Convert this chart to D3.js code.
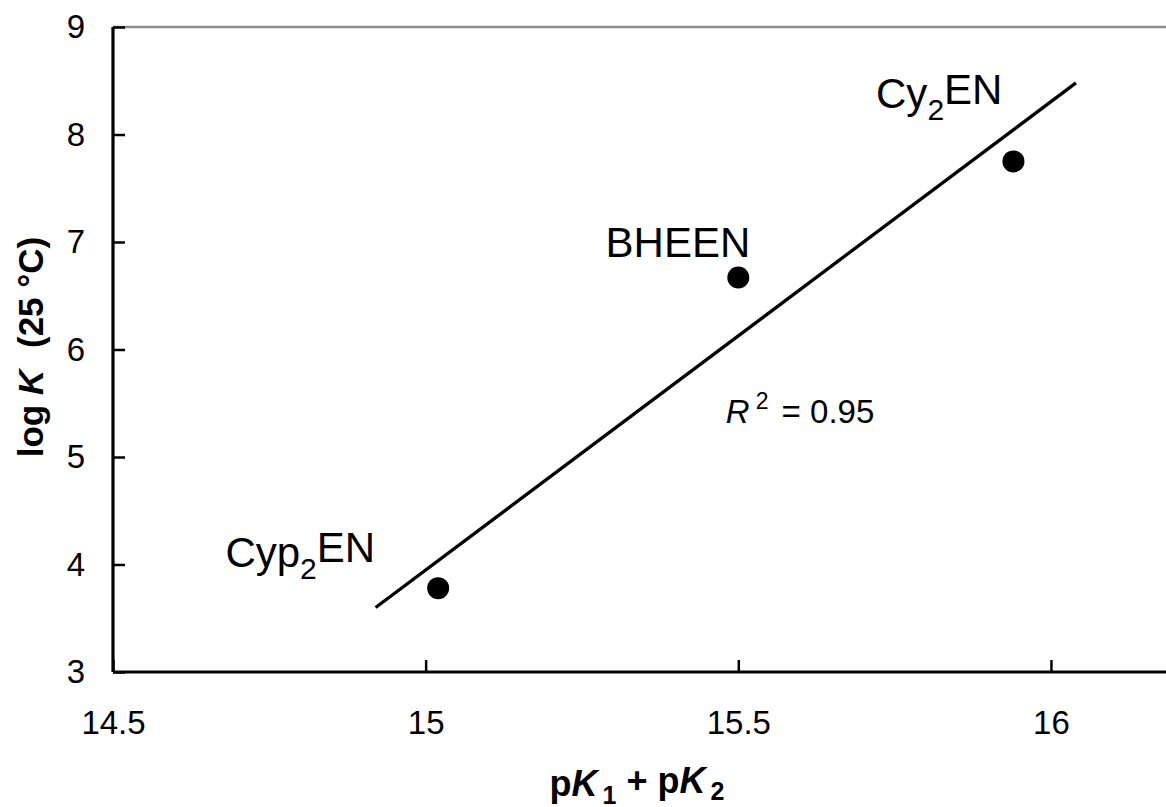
<!DOCTYPE html>
<html>
<head>
<meta charset="utf-8">
<script src="https://cdnjs.cloudflare.com/ajax/libs/d3/7.8.5/d3.min.js"></script>
<style>
  body { margin: 0; background: #fff; }
  text { font-family: "Liberation Sans", Arial, sans-serif; fill: #000; }
</style>
</head>
<body>
<div id="chart"></div>
<script>
// ligands and their values
var names = ["Cyp2EN", "BHEEN", "Cy2EN"];
var pkSum = [15.02, 15.50, 15.94];
var logK = [3.78, 6.67, 7.75];

// fitted trend line ends
var trendX = [14.92, 16.04];
var trendY = [3.60, 8.48];

var xTicks = [14.5, 15, 15.5, 16];
var yTicks = [3, 4, 5, 6, 7, 8, 9];

var W = 1166, H = 807;
var margin = {top: 27, left: 113};
var plotH = 645;

var svg = d3.select("#chart")
    .append("svg")
    .attr("width", W)
    .attr("height", H);

var x = d3.scaleLinear()
    .domain([14.5, 16.5])
    .range([margin.left, margin.left + 1250.6]);

var y = d3.scaleLinear()
    .domain([3, 9])
    .range([margin.top + plotH, margin.top]);

// gray top border
svg.append("line")
    .attr("x1", x(14.5)).attr("x2", W)
    .attr("y1", y(9)).attr("y2", y(9))
    .attr("stroke", "#8c8c8c")
    .attr("stroke-width", 2.5);

var yAxis = d3.axisLeft(y)
    .tickValues(yTicks)
    .tickFormat(d3.format("d"))
    .tickSizeInner(-12)
    .tickSizeOuter(0)
    .tickPadding(28);

var xAxis = d3.axisBottom(x)
    .tickValues(xTicks)
    .tickFormat(function (d) { return d; })
    .tickSizeInner(-12)
    .tickSizeOuter(0)
    .tickPadding(39);

var yG = svg.append("g")
    .attr("transform", "translate(" + margin.left + ",0)")
    .call(yAxis);

var xG = svg.append("g")
    .attr("transform", "translate(0," + y(3) + ")")
    .call(xAxis);

[yG, xG].forEach(function (g) {
    g.select(".domain").attr("stroke", "#000").attr("stroke-width", 3.2);
    g.selectAll(".tick line").attr("stroke", "#000").attr("stroke-width", 2.5);
    g.selectAll(".tick text")
        .attr("font-family", "Liberation Sans, Arial, sans-serif")
        .attr("font-size", "33px")
        .attr("fill", "#000");
});
yG.select(".domain").attr("d", "M0," + y(3) + "V" + y(9));
xG.select(".domain").attr("d", "M" + x(14.5) + ",0H" + W);

// trend line
svg.append("line")
    .attr("x1", x(trendX[0])).attr("y1", y(trendY[0]))
    .attr("x2", x(trendX[1])).attr("y2", y(trendY[1]))
    .attr("stroke", "#000")
    .attr("stroke-width", 3.3);

// points
svg.selectAll("circle.pt")
    .data(names)
    .enter()
    .append("circle")
    .attr("class", "pt")
    .attr("cx", function (d, i) { return x(pkSum[i]); })
    .attr("cy", function (d, i) { return y(logK[i]); })
    .attr("r", 11)
    .attr("fill", "#000");

// point labels, end-anchored beside each point
var labelOff = {
    "Cyp2EN": [-63, -21],
    "BHEEN": [12, -20],
    "Cy2EN": [-11, -53]
};

names.forEach(function (n, i) {
    var t = svg.append("text")
        .attr("x", x(pkSum[i]) + labelOff[n][0])
        .attr("y", y(logK[i]) + labelOff[n][1])
        .attr("text-anchor", "end")
        .attr("font-size", "42px");
    var m = n.match(/^(.*?)2(EN)$/);
    if (m && n !== "BHEEN") {
        t.append("tspan").text(m[1]);
        t.append("tspan").attr("font-size", "30px").attr("dy", "0.4em").text("2");
        t.append("tspan").attr("dy", "-0.4em").text(m[2]);
    } else {
        t.text(n);
    }
});

// R squared
var r2 = svg.append("text")
    .attr("x", x(15.48))
    .attr("y", y(5.32))
    .attr("font-size", "33px");
r2.append("tspan").attr("font-style", "italic").text("R");
r2.append("tspan").attr("font-size", "23px").attr("dy", "-0.6em").attr("dx", "6").text("2");
r2.append("tspan").attr("dy", "0.42em").attr("dx", "4").text(" = 0.95");

// axis titles
var xt = svg.append("text")
    .attr("x", 637)
    .attr("y", 796)
    .attr("text-anchor", "middle")
    .attr("font-weight", "bold")
    .attr("font-size", "36px");
xt.append("tspan").text("p");
xt.append("tspan").attr("font-style", "italic").text("K");
xt.append("tspan").attr("font-size", "25px").attr("dy", "0.3em").attr("dx", "5").text("1");
xt.append("tspan").attr("dy", "-0.3em").text(" + p");
xt.append("tspan").attr("font-style", "italic").text("K");
xt.append("tspan").attr("font-size", "25px").attr("dy", "0.3em").attr("dx", "5").text("2");

var yt = svg.append("text")
    .attr("transform", "translate(43,347) rotate(-90)")
    .attr("text-anchor", "middle")
    .attr("font-weight", "bold")
    .attr("font-size", "35px");
yt.append("tspan").text("log ");
yt.append("tspan").attr("font-style", "italic").text("K");
yt.append("tspan").attr("dx", "12").text(" (25 \u00B0C)");
</script>
</body>
</html>
